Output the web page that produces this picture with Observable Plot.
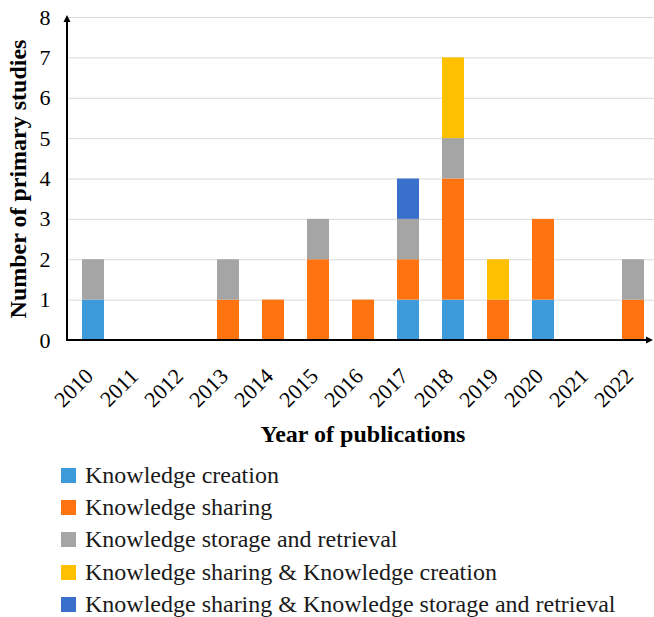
<!DOCTYPE html>
<html>
<head>
<meta charset="utf-8">
<script src="https://cdn.jsdelivr.net/npm/d3@7"></script>
<script src="https://cdn.jsdelivr.net/npm/@observablehq/plot@0.6"></script>
<style>
  body { margin: 0; background: #fff; font-family: "Liberation Serif", "Times New Roman", serif; }
  #legend { padding-top: 4px; }
  .row { display: flex; align-items: center; height: 32.3px; padding-left: 61px; font-size: 24px; color: #1a1a1a; }
  .sw { width: 15px; height: 15px; margin-right: 9px; flex: none; }
</style>
</head>
<body>
<div id="chart"></div>
<div id="legend"></div>
<script>
const years = ["2010","2011","2012","2013","2014","2015","2016","2017","2018","2019","2020","2021","2022"];
const seriesNames = [
  "Knowledge creation",
  "Knowledge sharing",
  "Knowledge storage and retrieval",
  "Knowledge sharing & Knowledge creation",
  "Knowledge sharing & Knowledge storage and retrieval"
];
const creation        = [1,0,0,0,0,0,0,1,1,0,1,0,0];
const sharing         = [0,0,0,1,1,2,1,1,3,1,2,0,1];
const storage         = [1,0,0,1,0,1,0,1,1,0,0,0,1];
const sharingCreation = [0,0,0,0,0,0,0,0,2,1,0,0,0];
const sharingStorage  = [0,0,0,0,0,0,0,1,0,0,0,0,0];
const colors = ["#3E9BDB", "#FF7410", "#A5A5A5", "#FFC000", "#3A6FCB"];
const yTicks = [0,1,2,3,4,5,6,7,8];
const gridTicks = [1,2,3,4,5,6,7,8];

const seriesValues = [creation, sharing, storage, sharingCreation, sharingStorage];
const data = [];
seriesNames.forEach((name, si) => {
  years.forEach((yr, i) => {
    data.push({year: yr, series: name, value: seriesValues[si][i]});
  });
});

function axisLines(index, scales, values, dims) {
  const ns = "http://www.w3.org/2000/svg";
  const g = document.createElementNS(ns, "g");
  const y0 = scales.y(0);
  const yTop = scales.y(8) - 2;
  const x0 = dims.marginLeft;
  const xEnd = dims.width - 1;
  const mk = (tag, attrs) => { const e = document.createElementNS(ns, tag); for (const k in attrs) e.setAttribute(k, attrs[k]); g.appendChild(e); return e; };
  mk("line", {x1: x0, y1: y0, x2: x0, y2: yTop + 6, stroke: "#000", "stroke-width": 2});
  mk("path", {d: `M${x0 - 3.5},${yTop + 7}L${x0},${yTop}L${x0 + 3.5},${yTop + 7}Z`, fill: "#000"});
  mk("line", {x1: x0 - 1, y1: y0, x2: xEnd - 6, y2: y0, stroke: "#000", "stroke-width": 2});
  mk("path", {d: `M${xEnd - 7},${y0 - 3.5}L${xEnd},${y0}L${xEnd - 7},${y0 + 3.5}Z`, fill: "#000"});
  return g;
}

const plot = Plot.plot({
  width: 654,
  height: 455,
  marginLeft: 67,
  marginRight: 0,
  marginTop: 17,
  marginBottom: 115,
  style: {fontFamily: "'Liberation Serif', 'Times New Roman', serif", background: "#fff", color: "#000"},
  x: {domain: years, range: [67, 658], paddingInner: 0.515, paddingOuter: 0.2575, axis: null},
  y: {domain: [0, 8], axis: null},
  color: {domain: seriesNames, range: colors},
  marks: [
    Plot.ruleY(gridTicks, {stroke: "#d9d9d9", strokeWidth: 1}),
    Plot.barY(data, {x: "year", y: "value", fill: "series", order: seriesNames}),
    axisLines,
    Plot.text(yTicks, {y: d => d, frameAnchor: "left", textAnchor: "end", dx: -17, fontSize: 22, fill: "#000"}),
    Plot.text(years, {x: d => d, frameAnchor: "bottom", rotate: -45, textAnchor: "end", lineAnchor: "middle", dx: -4, dy: 32, fontSize: 22, fill: "#000"}),
    Plot.text(["Number of primary studies"], {frameAnchor: "left", textAnchor: "middle", lineAnchor: "middle", rotate: -90, dx: -49, fontSize: 24, fontWeight: "bold", fill: "#000"}),
    Plot.text(["Year of publications"], {frameAnchor: "bottom", dx: 2, dy: 101, fontSize: 24, fontWeight: "bold", fill: "#000"})
  ]
});
document.getElementById("chart").appendChild(plot);

const legend = document.getElementById("legend");
seriesNames.forEach((name, i) => {
  const row = document.createElement("div");
  row.className = "row";
  const sw = document.createElement("span");
  sw.className = "sw";
  sw.style.background = colors[i];
  const t = document.createElement("span");
  t.textContent = name;
  row.appendChild(sw);
  row.appendChild(t);
  legend.appendChild(row);
});
</script>
</body>
</html>
